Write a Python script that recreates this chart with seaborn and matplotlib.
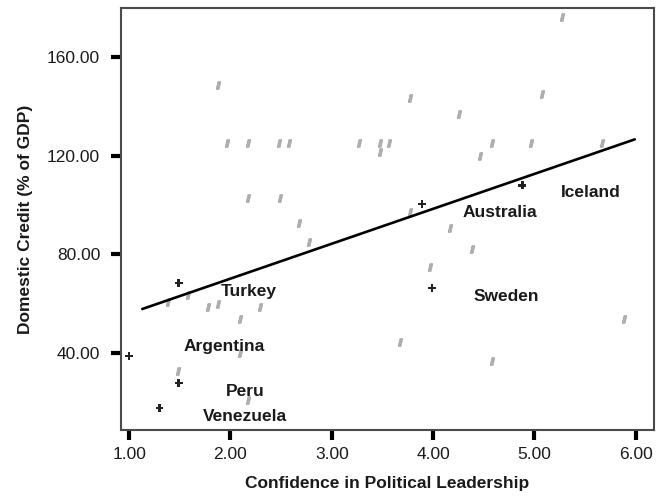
import matplotlib
matplotlib.use("Agg")
import matplotlib.pyplot as plt
import seaborn as sns
import pandas as pd

sns.set_style("ticks")
plt.rcParams['font.family'] = ['Liberation Sans', 'DejaVu Sans']

# Other countries (grey markers)
other_x = [1.88, 1.97, 2.17, 2.48, 2.58, 3.77, 4.26, 3.27, 3.48, 3.48, 3.56, 4.46, 4.58,
           5.27, 5.07, 4.97, 5.67, 2.17, 2.49, 2.68, 2.78, 1.58, 1.38, 1.78, 1.88, 2.29,
           3.77, 4.17, 4.38, 3.97, 1.48, 2.09, 2.09, 2.17, 3.67, 4.58, 5.88]
other_y = [148.6, 125.0, 125.0, 125.0, 125.0, 143.3, 137.0, 125.0, 125.0, 121.5, 125.0, 120.0, 125.0,
           176.0, 145.0, 125.0, 125.0, 103.0, 103.0, 92.6, 85.0, 63.6, 60.7, 58.7, 59.9, 58.7,
           97.0, 90.7, 82.0, 75.0, 32.8, 54.0, 40.0, 21.0, 44.5, 37.0, 54.0]

# Highlighted countries (dark markers)
country_names = ["Argentina", "Venezuela", "Peru", "Turkey", "Australia", "Sweden", "Iceland"]
country_x = [1.00, 1.30, 1.49, 1.49, 3.89, 3.99, 4.88]
country_y = [38.9, 17.8, 27.9, 68.4, 100.4, 66.4, 108.0]

# Fit line
fit_x = [1.13, 5.99]
fit_y = [57.9, 126.6]

x_ticks = [1, 2, 3, 4, 5, 6]
y_ticks = [40, 80, 120, 160]

# label placement (data coordinates of label centers)
label_pos = {"Turkey": (2.18, 64.8), "Argentina": (1.94, 42.9), "Peru": (2.15, 24.3),
             "Venezuela": (2.14, 14.2), "Australia": (4.66, 96.8), "Sweden": (4.72, 62.8),
             "Iceland": (5.56, 104.9)}

others = pd.DataFrame({"x": other_x, "y": other_y})
highlighted = pd.DataFrame({"x": country_x, "y": country_y, "name": country_names})
fit = pd.DataFrame({"x": fit_x, "y": fit_y})

fig = plt.figure(figsize=(6.58, 5.0), dpi=100)
ax = fig.add_axes([121/658, 1 - 430/500, (654 - 121)/658, (430 - 8)/500])

# small slanted blob-like marker
hatch_marker = [(-0.6, -1.0), (-0.15, 1.0), (0.6, 1.0), (0.15, -1.0), (-0.6, -1.0)]
sns.scatterplot(data=others, x="x", y="y", ax=ax, marker=hatch_marker, s=30,
                color="#b0b0b0", edgecolor="#a0a0a0", linewidth=0.5)
sns.scatterplot(data=highlighted, x="x", y="y", ax=ax, marker="P", s=30,
                color="#222222", edgecolor="none", linewidth=0)
sns.lineplot(data=fit, x="x", y="y", ax=ax, color="black", linewidth=1.9)

for name in country_names:
    lx, ly = label_pos[name]
    ax.text(lx, ly, name, ha="center", va="center", fontsize=12.5, fontweight="bold",
            color="#1a1a1a")

ax.set_xlim(0.92, 6.18)
ax.set_ylim(8.9, 179.8)
ax.set_xticks(x_ticks)
ax.set_yticks(y_ticks)
ax.set_xticklabels([f"{v:.2f}" for v in x_ticks])
ax.set_yticklabels([f"{v:.2f}" for v in y_ticks])

ax.tick_params(axis="both", direction="out", length=7, width=3, color="black",
               labelsize=12.5, labelcolor="#1a1a1a")
ax.tick_params(axis="y", pad=8)
ax.tick_params(axis="x", pad=5)

for sp in ax.spines.values():
    sp.set_visible(True)
    sp.set_color("#4a4a4a")
    sp.set_linewidth(1.5)

ax.set_xlabel("Confidence in Political Leadership", fontsize=12.5, fontweight="bold",
              color="#1a1a1a", labelpad=10)
ax.set_ylabel("Domestic Credit (% of GDP)", fontsize=12.5, fontweight="bold",
              color="#1a1a1a", labelpad=10)

fig.savefig("out.png", dpi=100)
